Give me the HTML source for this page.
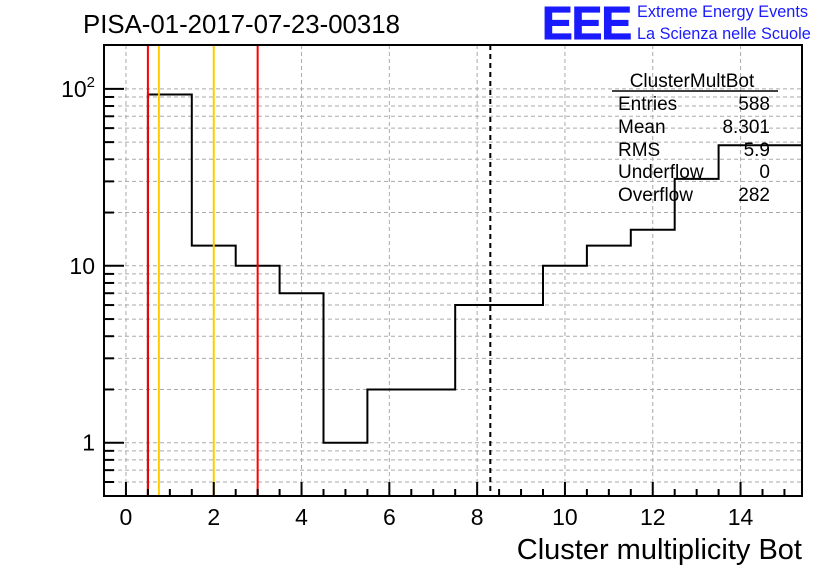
<!DOCTYPE html>
<html><head><meta charset="utf-8"><style>
body{margin:0;background:#fff;}
svg{display:block;font-family:"Liberation Sans",sans-serif;}
</style></head><body>
<svg id="c" width="836" height="572">
<text x="83" y="33" font-size="25.8">PISA-01-2017-07-23-00318</text>
<text x="542" y="39" font-size="46" font-weight="bold" fill="#1a1aff" stroke="#1a1aff" stroke-width="1" letter-spacing="-1">EEE</text>
<text x="637" y="17" font-size="16.3" fill="#1a1aff">Extreme Energy Events</text>
<text x="637" y="39" font-size="16.3" fill="#1a1aff">La Scienza nelle Scuole</text>
<g id="grid"></g><g id="marks"></g><g id="axes"></g>
<g font-size="19">
<text x="692" y="87" text-anchor="middle">ClusterMultBot</text>
<line x1="612" y1="91" x2="778" y2="91" stroke="#000" stroke-width="1.5"/>
<text x="618" y="110">Entries</text><text x="770" y="110" text-anchor="end">588</text>
<text x="618" y="133">Mean</text><text x="770" y="133" text-anchor="end">8.301</text>
<text x="618" y="156">RMS</text><text x="770" y="156" text-anchor="end">5.9</text>
<text x="618" y="178">Underflow</text><text x="770" y="178" text-anchor="end">0</text>
<text x="618" y="201">Overflow</text><text x="770" y="201" text-anchor="end">282</text>
</g>
<text x="802" y="559" font-size="29" text-anchor="end">Cluster multiplicity Bot</text>
</svg>
<script>
const binCenters=[1,2,3,4,5,6,7,8,9,10,11,12,13,14,15];
const counts=[93,13,10,7,1,2,2,6,6,10,13,16,31,48,48];
const xTicks=[0,2,4,6,8,10,12,14];
const yTicks=[1,10,100];
const yTickLabels=["1","10","10²"];
const redLines=[0.5,3];
const orangeLines=[0.75,2];
const meanLine=[8.3];
const L=104,R=802,T=45,B=496;
const xmin=-0.5,xmax=15.4,ymin=0.5,ymax=177;
const X=v=>L+(v-xmin)/(xmax-xmin)*(R-L);
const Y=v=>B-(Math.log10(v)-Math.log10(ymin))/(Math.log10(ymax)-Math.log10(ymin))*(B-T);
const NS="http://www.w3.org/2000/svg";
function mk(p,t,a){const e=document.createElementNS(NS,t);for(const k in a)e.setAttribute(k,a[k]);p.appendChild(e);return e;}
const grid=document.getElementById('grid'),marks=document.getElementById('marks'),axes=document.getElementById('axes');
xTicks.forEach(v=>{const g=mk(grid,'line',{x1:X(v),x2:X(v),y1:T,y2:B,stroke:'#aaa','stroke-dasharray':'4,3'});

});
const yMinor=[];
[0.1,1,10,100].forEach(dec=>{for(let k=1;k<10;k++){const v=dec*k;if(v>ymin&&v<ymax)yMinor.push({v,k});}});
yMinor.forEach(o=>{const g=mk(grid,'line',{x1:L,x2:R,y1:Y(o.v),y2:Y(o.v),stroke:'#aaa','stroke-dasharray':'4,3'});

});
let p='M'+X(binCenters[0]-0.5)+','+B;
binCenters.forEach((c,i)=>{const y=Y(counts[i]);p+=' L'+X(c-0.5)+','+y+' L'+X(Math.min(c+0.5,xmax))+','+y;});
const h=mk(marks,'path',{d:p,fill:'none',stroke:'#000','stroke-width':2});


redLines.forEach(v=>{const l=mk(marks,'line',{x1:X(v),x2:X(v),y1:T,y2:B,stroke:'#f00','stroke-width':2});

});
orangeLines.forEach(v=>{const l=mk(marks,'line',{x1:X(v),x2:X(v),y1:T,y2:B,stroke:'#fc0','stroke-width':2});

});
meanLine.forEach(v=>{const l=mk(marks,'line',{x1:X(v),x2:X(v),y1:T,y2:B,stroke:'#000','stroke-width':2,'stroke-dasharray':'5,4'});

});
const fr=mk(axes,'rect',{x:L,y:T,width:R-L,height:B-T,fill:'none',stroke:'#000','stroke-width':2});


for(let v=0;v<=xmax;v+=0.5){const maj=xTicks.includes(v);mk(axes,'line',{x1:X(v),x2:X(v),y1:B,y2:B-(maj?14:7),stroke:'#000','stroke-width':2});}
xTicks.forEach(v=>{const t=mk(axes,'text',{x:X(v),y:B+29,'font-size':23,'text-anchor':'middle'});t.textContent=v;

});
yMinor.forEach(o=>{mk(axes,'line',{x1:L,x2:L+(o.k===1?20:10),y1:Y(o.v),y2:Y(o.v),stroke:'#000','stroke-width':2});});
yTicks.forEach((v,i)=>{const t=mk(axes,'text',{x:95,y:Y(v)+8,'font-size':23,'text-anchor':'end'});
if(v===100){t.textContent='10';const s=mk(t,'tspan',{dy:-10,'font-size':15});s.textContent='2';}else t.textContent=yTickLabels[i];

});
</script>
</body></html>
